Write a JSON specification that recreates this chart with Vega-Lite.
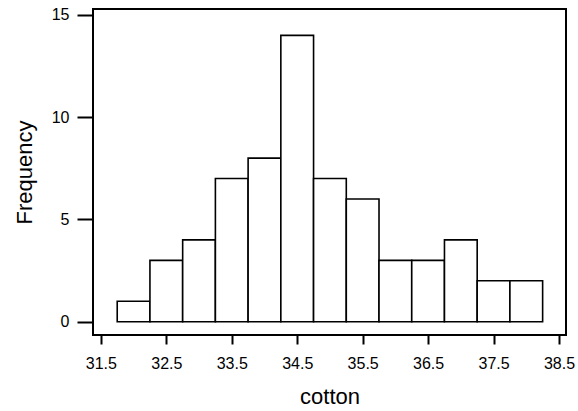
{
  "$schema": "https://vega.github.io/schema/vega-lite/v6.json",
  "width": 473,
  "height": 326,
  "autosize": {"type": "none"},
  "padding": {"left": 93, "top": 9, "right": 12, "bottom": 76},
  "background": "white",
  "config": {
    "view": {"stroke": "black", "strokeWidth": 2},
    "font": "Liberation Sans",
    "axis": {
      "domain": false,
      "grid": false,
      "tickColor": "black",
      "tickWidth": 2,
      "labelColor": "black",
      "titleColor": "black",
      "labelFont": "Liberation Sans",
      "titleFont": "Liberation Sans",
      "titleFontWeight": "normal",
      "labelFontSize": 16,
      "titleFontSize": 22
    }
  },
  "data": {
    "values": [
      {"start": 31.75, "end": 32.25, "count": 1},
      {"start": 32.25, "end": 32.75, "count": 3},
      {"start": 32.75, "end": 33.25, "count": 4},
      {"start": 33.25, "end": 33.75, "count": 7},
      {"start": 33.75, "end": 34.25, "count": 8},
      {"start": 34.25, "end": 34.75, "count": 14},
      {"start": 34.75, "end": 35.25, "count": 7},
      {"start": 35.25, "end": 35.75, "count": 6},
      {"start": 35.75, "end": 36.25, "count": 3},
      {"start": 36.25, "end": 36.75, "count": 3},
      {"start": 36.75, "end": 37.25, "count": 4},
      {"start": 37.25, "end": 37.75, "count": 2},
      {"start": 37.75, "end": 38.25, "count": 2}
    ]
  },
  "mark": {"type": "rect", "fill": "white", "stroke": "black", "strokeWidth": 1.6},
  "encoding": {
    "x": {
      "field": "start",
      "type": "quantitative",
      "scale": {"domain": [31.38, 38.607], "nice": false, "zero": false},
      "axis": {
        "title": "cotton",
        "values": [31.5, 32.5, 33.5, 34.5, 35.5, 36.5, 37.5, 38.5],
        "format": ".1f",
        "tickSize": 9,
        "labelPadding": 11,
        "titlePadding": 15
      }
    },
    "x2": {"field": "end"},
    "y": {
      "field": "count",
      "type": "quantitative",
      "scale": {"domain": [-0.65, 15.29], "nice": false, "zero": false},
      "axis": {
        "title": "Frequency",
        "values": [0, 5, 10, 15],
        "tickSize": 16,
        "labelPadding": 8,
        "titlePadding": 15,
        "labelFontSize": 16
      }
    },
    "y2": {"datum": 0}
  }
}
